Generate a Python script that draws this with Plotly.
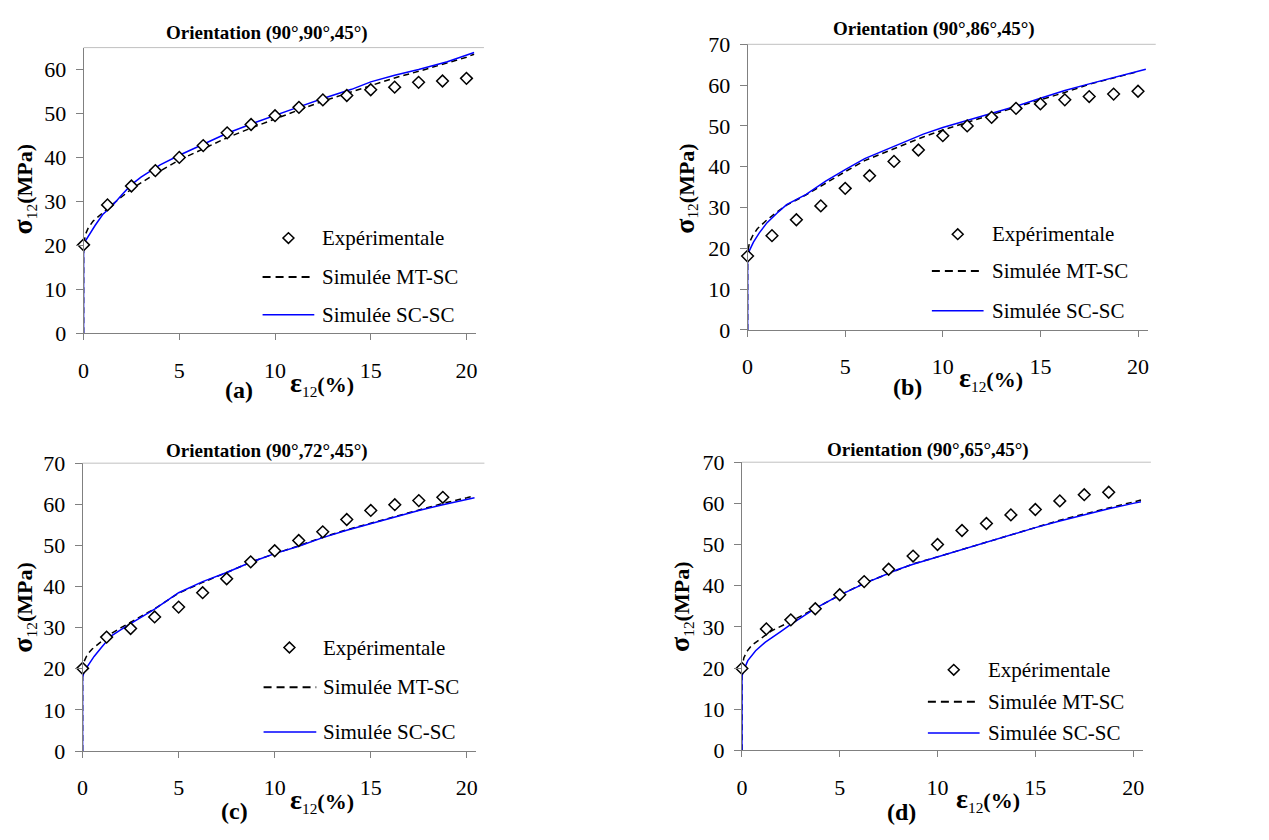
import plotly.graph_objects as go

W, H = 1269, 840
FONT = "'Liberation Serif', 'Times New Roman', Times, serif"

# ---------------- data ----------------
exp_strain = [0, 1.25, 2.5, 3.75, 5, 6.25, 7.5, 8.75, 10, 11.25, 12.5, 13.75, 15, 16.25, 17.5, 18.75, 20]
exp_strain_cd = exp_strain[:16]

exp_a = [20.1, 29.2, 33.5, 37.0, 40.0, 42.7, 45.6, 47.5, 49.5, 51.4, 53.1, 54.1, 55.4, 56.0, 57.1, 57.4, 58.0]
exp_b = [18.1, 23.1, 27.0, 30.4, 34.7, 37.8, 41.3, 44.1, 47.6, 50.0, 52.1, 54.3, 55.4, 56.4, 57.2, 57.8, 58.5]
exp_c = [20.1, 27.7, 29.8, 32.6, 35.0, 38.5, 41.9, 46.0, 48.7, 51.2, 53.3, 56.3, 58.5, 59.9, 60.9, 61.7]
exp_d = [19.9, 29.5, 31.7, 34.4, 37.8, 41.0, 44.0, 47.2, 50.0, 53.4, 55.1, 57.2, 58.5, 60.6, 62.1, 62.7]

scsc_x_a = [0, 0, 0.1, 0.3, 0.6, 1, 1.5, 2, 2.5, 3, 4, 5, 6, 7.5, 9, 10, 11.25, 12.5, 14, 15, 16.25, 17.5, 19, 20.4]
scsc_a = [0, 19.5, 21, 22.5, 24.5, 27, 29, 31.5, 33.8, 35.5, 38.3, 40.5, 42.5, 45.5, 48, 49.6, 51.5, 53.4, 55.5, 57.2, 58.7, 60, 61.8, 63.9]
mtsc_x_a = [0, 0, 0.1, 0.25, 0.5, 1, 1.5, 2.5, 3.75, 5, 6.25, 7.5, 8.75, 10, 11.25, 12.5, 13.75, 15, 16.25, 17.5, 18.75, 20, 20.4]
mtsc_a = [0, 20, 22.5, 24, 25.5, 27.5, 29.3, 32.8, 36.3, 39.4, 42, 44.5, 46.7, 48.8, 50.8, 52.8, 54.6, 56.4, 58.1, 59.6, 61.2, 62.8, 63.5]

scsc_x_b = [0, 0, 0.1, 0.3, 0.6, 1, 1.5, 2, 3, 4, 5, 6, 7.5, 9, 10, 11.25, 12.5, 13.75, 15, 16.25, 17.5, 18.75, 20, 20.4]
scsc_b = [0, 18, 19.5, 21.5, 23.8, 26.3, 28.6, 30.7, 33.2, 36.5, 39.3, 42, 45, 48, 49.6, 51.3, 53, 54.8, 56.8, 58.7, 60.3, 61.8, 63.3, 63.9]
mtsc_x_b = [0, 0, 0.1, 0.25, 0.5, 1, 1.5, 2, 3, 4, 5, 6, 7.5, 9, 10, 11.25, 12.5, 13.75, 15, 16.25, 17.5, 18.75, 20]
mtsc_b = [0, 19, 21.5, 23, 24.8, 27, 28.9, 30.6, 33.1, 36, 38.8, 41.5, 44.4, 47.3, 49, 50.9, 52.7, 54.6, 56.4, 58.2, 60.2, 61.8, 63.3]

scsc_x_c = [0, 0, 0.1, 0.3, 0.6, 1, 1.5, 2, 2.5, 3.75, 5, 6.25, 7.5, 8.75, 10, 11.25, 12.5, 13.75, 15, 16.25, 17.5, 18.75, 20, 20.4]
scsc_c = [0, 18, 19.5, 21, 23, 25.3, 28, 29.5, 31, 34.5, 38.5, 41.2, 43.4, 45.9, 48, 49.8, 51.9, 53.7, 55.3, 56.9, 58.5, 59.9, 61.1, 61.6]
mtsc_x_c = [0, 0, 0.1, 0.25, 0.5, 1, 1.5, 2, 2.5, 3.75, 5, 6.25, 7.5, 8.75, 10, 11.25, 12.5, 13.75, 15, 16.25, 17.5, 18.75, 20, 20.4]
mtsc_c = [0, 20, 22, 23.5, 24.8, 26.8, 28.6, 30, 31.3, 34.6, 38.4, 41, 43.4, 45.9, 48, 49.9, 52, 53.8, 55.4, 57, 58.7, 60.2, 61.6, 62.1]

scsc_x_d = [0, 0, 0.1, 0.3, 0.7, 1.2, 2, 2.5, 3.75, 5, 6.25, 7.5, 8, 8.75, 10, 11.25, 12.5, 13.75, 15, 16.25, 17.5, 18.75, 20, 20.4]
scsc_d = [0, 18, 19.5, 21.8, 24.2, 26.3, 28.9, 30.6, 34.5, 37.7, 40.5, 43, 44, 45.2, 47, 48.8, 50.5, 52.3, 54.1, 55.7, 57.2, 58.7, 60, 60.4]
mtsc_x_d = [0, 0, 0.1, 0.25, 0.5, 1, 1.5, 2.5, 3.75, 5, 6.25, 7.5, 8, 8.75, 10, 11.25, 12.5, 13.75, 15, 16.25, 17.5, 18.75, 20, 20.4]
mtsc_d = [0, 20, 22.5, 24, 25.5, 27.3, 29, 31.3, 34.5, 37.7, 40.6, 43, 44, 45.3, 47, 48.8, 50.6, 52.4, 54.2, 55.9, 57.4, 58.9, 60.3, 60.8]

titles = ["Orientation (90°,90°,45°)", "Orientation (90°,86°,45°)",
          "Orientation (90°,72°,45°)", "Orientation (90°,65°,45°)"]
panel_labels = ["(a)", "(b)", "(c)", "(d)"]
legend_names = ["Expérimentale", "Simulée MT-SC", "Simulée SC-SC"]
y_ticks_a = [0, 10, 20, 30, 40, 50, 60]
y_ticks = [0, 10, 20, 30, 40, 50, 60, 70]
x_ticks = [0, 5, 10, 15, 20]

# ---------------- layout geometry (pixels) ----------------
panels = [
    dict(x0=78, ppu=19.25, ybot=331, ytop=36.7, ymax=65, yt=y_ticks_a,
         title=(262, 22), ytitle=(18, 183), xtitle=(318, 383), lab=(234, 390),
         leg=dict(mx=284, tx=316, l0=258, l1=310, ys=(233, 273, 312)),
         exp=(exp_strain, exp_a), sc=(scsc_x_a, scsc_a), mt=(mtsc_x_a, mtsc_a)),
    dict(x0=745.7, ppu=19.63, ybot=327.7, ytop=33.3, ymax=70, yt=y_ticks,
         title=(933, 18), ytitle=(683, 182), xtitle=(990, 378), lab=(907, 387),
         leg=dict(mx=957, tx=989, l0=931, l1=983, ys=(229, 267, 308)),
         exp=(exp_strain, exp_b), sc=(scsc_x_b, scsc_b), mt=(mtsc_x_b, mtsc_b)),
    dict(x0=77, ppu=19.32, ybot=761.7, ytop=465, ymax=70, yt=y_ticks,
         title=(262, 452), ytitle=(18, 614), xtitle=(318, 813), lab=(230, 823),
         leg=dict(mx=285, tx=317, l0=259, l1=312, ys=(655, 696, 742)),
         exp=(exp_strain_cd, exp_c), sc=(scsc_x_c, scsc_c), mt=(mtsc_x_c, mtsc_c)),
    dict(x0=740, ppu=19.67, ybot=761, ytop=464, ymax=70, yt=y_ticks,
         title=(927, 451), ytitle=(679, 613), xtitle=(987, 812), lab=(900, 825),
         leg=dict(mx=953, tx=985, l0=927, l1=979, ys=(678, 711, 743)),
         exp=(exp_strain_cd, exp_d), sc=(scsc_x_d, scsc_d), mt=(mtsc_x_d, mtsc_d)),
]
XMAX = 20.5


def px(x):
    return x / W


def py(y):
    return 1 - y / H


fig = go.Figure()
annotations = []
shapes = []
layout_axes = {}

for i, p in enumerate(panels):
    n = "" if i == 0 else str(i + 1)
    xa, ya = "x" + n, "y" + n
    xr = p["x0"] + XMAX * p["ppu"]
    layout_axes["xaxis" + n] = dict(
        domain=[px(p["x0"]), px(xr)], range=[0, XMAX], anchor=ya,
        tickvals=x_ticks, showgrid=False, zeroline=False,
        showline=True, linecolor="#808080", linewidth=1,
        ticks="outside", ticklen=6, tickcolor="#808080", tickwidth=1,
        ticklabelstandoff=11,
        tickfont=dict(family=FONT, size=22, color="black"))
    layout_axes["yaxis" + n] = dict(
        domain=[py(p["ybot"]), py(p["ytop"])], range=[0, p["ymax"]], anchor=xa,
        tickvals=p["yt"], showgrid=False, zeroline=False,
        showline=True, linecolor="#808080", linewidth=1,
        ticks="outside", ticklen=7, tickcolor="#808080", tickwidth=1,
        ticklabelstandoff=5,
        tickfont=dict(family=FONT, size=22, color="black"))

    fig.add_trace(go.Scatter(x=p["mt"][0], y=p["mt"][1], mode="lines", xaxis=xa, yaxis=ya,
                             line=dict(color="black", width=1.5, dash="6px,4px"),
                             name=legend_names[1], showlegend=False, hoverinfo="skip"))
    fig.add_trace(go.Scatter(x=p["sc"][0], y=p["sc"][1], mode="lines", xaxis=xa, yaxis=ya,
                             line=dict(color="#0000ff", width=1.5),
                             name=legend_names[2], showlegend=False, hoverinfo="skip"))
    fig.add_trace(go.Scatter(x=p["exp"][0], y=p["exp"][1], mode="markers", xaxis=xa, yaxis=ya,
                             marker=dict(symbol="diamond", size=9, color="white",
                                         line=dict(color="black", width=1.5)),
                             cliponaxis=False, hoverinfo="skip",
                             name=legend_names[0], showlegend=False))

    # top border
    shapes.append(dict(type="line", xref="paper", yref="paper",
                       x0=px(p["x0"]), x1=px(xr + 8), y0=py(p["ytop"]), y1=py(p["ytop"]),
                       line=dict(color="#c0c0c0", width=1)))

    # titles
    tx, ty = p["title"]
    annotations.append(dict(x=px(tx), y=py(ty), xref="paper", yref="paper", showarrow=False,
                            text="<b>" + titles[i] + "</b>", xanchor="center", yanchor="middle",
                            font=dict(family=FONT, size=19, color="black")))
    yx, yy = p["ytitle"]
    annotations.append(dict(x=px(yx), y=py(yy), xref="paper", yref="paper", showarrow=False,
                            textangle=-90, xanchor="center", yanchor="middle",
                            text="<b><span style='font-size:28px'>σ</span></b>"
                                 "<sub>12</sub><b>(MPa)</b>",
                            font=dict(family=FONT, size=22, color="black")))
    xx, xy = p["xtitle"]
    annotations.append(dict(x=px(xx), y=py(xy), xref="paper", yref="paper", showarrow=False,
                            xanchor="center", yanchor="middle",
                            text="<b><span style='font-size:28px'>ε</span></b>"
                                 "<sub>12</sub><b>(%)</b>",
                            font=dict(family=FONT, size=22, color="black")))
    lx, ly = p["lab"]
    annotations.append(dict(x=px(lx), y=py(ly), xref="paper", yref="paper", showarrow=False,
                            xanchor="center", yanchor="middle",
                            text="<b>" + panel_labels[i] + "</b>",
                            font=dict(family=FONT, size=24, color="black")))

    # manual legend
    lg = p["leg"]
    y0, y1, y2 = lg["ys"]
    s = 5.5
    mx = lg["mx"]
    shapes.append(dict(type="path", xref="paper", yref="paper",
                       path=f"M {px(mx - s)} {py(y0)} L {px(mx)} {py(y0 - s)} "
                            f"L {px(mx + s)} {py(y0)} L {px(mx)} {py(y0 + s)} Z",
                       line=dict(color="black", width=1.5), fillcolor="white"))
    shapes.append(dict(type="line", xref="paper", yref="paper",
                       x0=px(lg["l0"]), x1=px(lg["l1"]), y0=py(y1), y1=py(y1),
                       line=dict(color="black", width=2, dash="8px,5px")))
    shapes.append(dict(type="line", xref="paper", yref="paper",
                       x0=px(lg["l0"]), x1=px(lg["l1"]), y0=py(y2), y1=py(y2),
                       line=dict(color="#0000ff", width=1.5)))
    for name, yy_ in zip(legend_names, (y0, y1, y2)):
        annotations.append(dict(x=px(lg["tx"]), y=py(yy_), xref="paper", yref="paper",
                                showarrow=False, xanchor="left", yanchor="middle",
                                text=name, font=dict(family=FONT, size=21, color="black")))

fig.update_layout(
    width=W, height=H, margin=dict(l=0, r=0, t=0, b=0),
    paper_bgcolor="white", plot_bgcolor="white", showlegend=False,
    font=dict(family=FONT, color="black"), hovermode=False,
    annotations=annotations, shapes=shapes, **layout_axes)

fig.write_html("out.html", config={"displayModeBar": False},
               post_script="document.body.style.margin='0';document.body.style.overflow='hidden';")
